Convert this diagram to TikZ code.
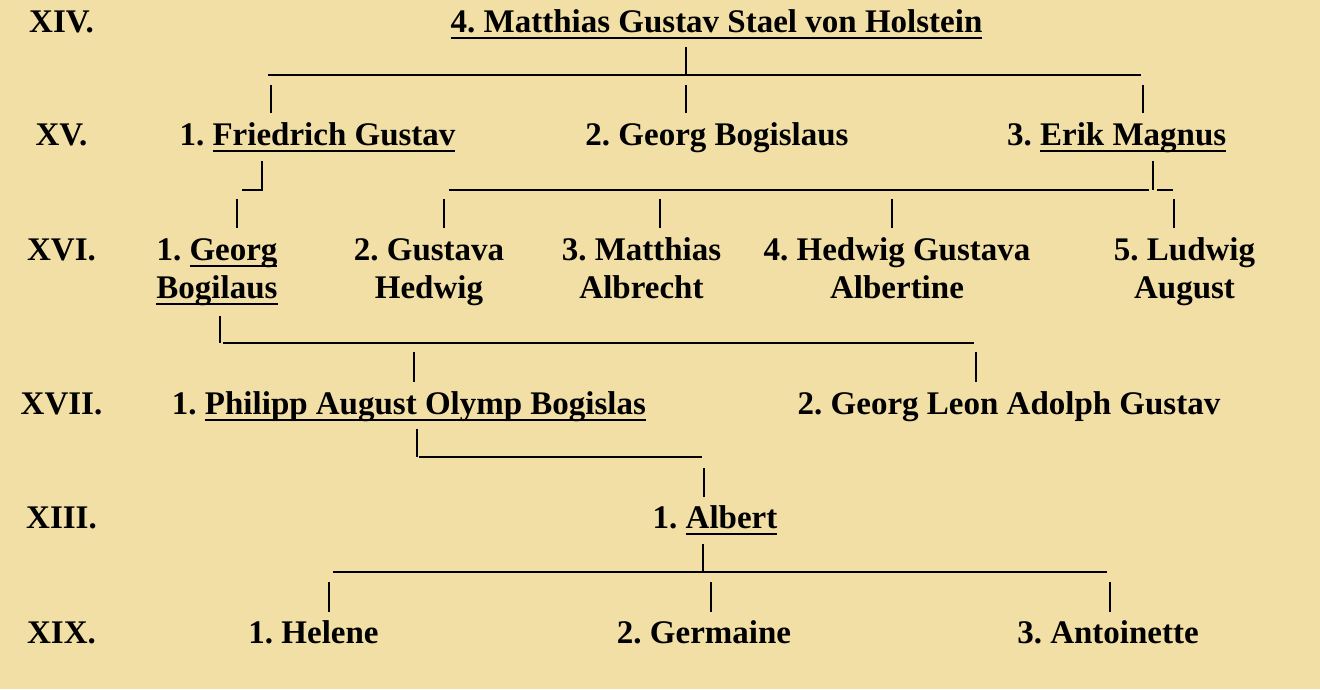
\documentclass[tikz,border=0pt]{standalone}
\usepackage{fontspec}
\setmainfont{Liberation Serif}
\usetikzlibrary{positioning}
\definecolor{parchment}{HTML}{F1DFA6}
\newcommand{\undl}[1]{\setbox0\hbox{#1}\rlap{\rule[-6.7pt]{\wd0}{2pt}}\box0}
\frenchspacing

\begin{document}
\begin{tikzpicture}[x=1pt, y=-1pt, person/.style={anchor=base, align=center, inner sep=0, font=\fontsize{33}{38}\selectfont\bfseries}, genlabel/.style={person}, link/.style={line width=2.2pt}]
				\useasboundingbox (0,0) rectangle (1320,689);
				\fill[parchment] (0,0) rectangle (1320,689);
				\node[genlabel] (g14) at (61.5,32) {XIV.};
				\node[genlabel] (g15) at (61.5,145) {XV.};
				\node[genlabel] (g16) at (61.5,260) {XVI.};
				\node[genlabel] (g17) at (61.5,414) {XVII.};
				\node[genlabel] (g18) at (61.5,528) {XIII.};
				\node[genlabel] (g19) at (61.5,643) {XIX.};
				\node[person] (mg) at (716.5,32) {\undl{4. Matthias Gustav Stael von Holstein}};
				\node[person] (fg) at (317.5,145) {1. \undl{Friedrich Gustav}};
				\node[person] (gb) at (717,145) {2. Georg Bogislaus};
				\node[person] (em) at (1116.7,145) {3. \undl{Erik Magnus}};
				\node[person] (gbo) at (217,298) {1. \undl{Georg}\\\undl{Bogilaus}};
				\node[person] (gh) at (429,298) {2. Gustava\\Hedwig};
				\node[person] (ma) at (641.5,298) {3. Matthias\\Albrecht};
				\node[person] (hga) at (897,298) {4. Hedwig Gustava\\Albertine};
				\node[person] (la) at (1184.5,298) {5. Ludwig\\August};
				\node[person] (pa) at (409,414) {1. \undl{Philipp August Olymp Bogislas}};
				\node[person] (gl) at (1009,414) {2. Georg Leon Adolph Gustav};
				\node[person] (al) at (715,528) {1. \undl{Albert}};
				\node[person] (he) at (313.5,643) {1. Helene};
				\node[person] (ge) at (704,643) {2. Germaine};
				\node[person] (an) at (1108,643) {3. Antoinette};
				\coordinate (mgt) at (686,47); \coordinate (mgb) at (686,76);
				\coordinate (b1w) at (268,75); \coordinate (b1e) at (1141,75);
				\coordinate (fgt) at (271,85); \coordinate (fgb) at (271,113);
				\coordinate (gbt) at (686,85); \coordinate (gbb) at (686,113);
				\coordinate (emt) at (1143,85); \coordinate (emb) at (1143,113);
				\coordinate (fgu) at (262,161); \coordinate (fgl) at (262,190); \coordinate (fgw) at (242,190);
				\coordinate (gbot) at (237,199); \coordinate (gbob) at (237,228);
				\coordinate (emu) at (1153,161); \coordinate (eml) at (1153,190);
				\coordinate (b2w) at (449,190); \coordinate (b2e) at (1149,190);
				\coordinate (b2s) at (1157,190); \coordinate (b2t) at (1173,190);
				\coordinate (ght) at (444,199); \coordinate (ghb) at (444,228);
				\coordinate (mat) at (660,199); \coordinate (mab) at (660,228);
				\coordinate (hgat) at (892,199); \coordinate (hgab) at (892,228);
				\coordinate (lat) at (1174,199); \coordinate (lab) at (1174,228);
				\coordinate (gbou) at (220,316); \coordinate (gbol) at (220,343);
				\coordinate (b3w) at (223,343); \coordinate (b3e) at (974,343);
				\coordinate (pat) at (414,352); \coordinate (pab) at (414,382);
				\coordinate (glt) at (976,352); \coordinate (glb) at (976,382);
				\coordinate (pau) at (417,429); \coordinate (pal) at (417,457);
				\coordinate (b4w) at (419,457); \coordinate (b4e) at (702,457);
				\coordinate (alt) at (704,468); \coordinate (alb) at (704,497);
				\coordinate (alu) at (703,544); \coordinate (all) at (703,573);
				\coordinate (b5w) at (333,572); \coordinate (b5e) at (1107,572);
				\coordinate (het) at (329,582); \coordinate (heb) at (329,612);
				\coordinate (get) at (711,582); \coordinate (geb) at (711,612);
				\coordinate (ant) at (1110,582); \coordinate (anb) at (1110,612);
				\draw[link] (mgt) to (mgb);
				\draw[link] (b1w) to (b1e);
				\draw[link] (fgt) to (fgb);
				\draw[link] (gbt) to (gbb);
				\draw[link] (emt) to (emb);
				\draw[link] (fgw) to (fgl) to (fgu);
				\draw[link] (gbot) to (gbob);
				\draw[link] (emu) to (eml);
				\draw[link] (b2w) to (b2e);
				\draw[link] (b2s) to (b2t);
				\draw[link] (ght) to (ghb);
				\draw[link] (mat) to (mab);
				\draw[link] (hgat) to (hgab);
				\draw[link] (lat) to (lab);
				\draw[link] (gbou) to (gbol);
				\draw[link] (b3w) to (b3e);
				\draw[link] (pat) to (pab);
				\draw[link] (glt) to (glb);
				\draw[link] (pau) to (pal);
				\draw[link] (b4w) to (b4e);
				\draw[link] (alt) to (alb);
				\draw[link] (alu) to (all);
				\draw[link] (b5w) to (b5e);
				\draw[link] (het) to (heb);
				\draw[link] (get) to (geb);
				\draw[link] (ant) to (anb);
			\end{tikzpicture}
\end{document}
